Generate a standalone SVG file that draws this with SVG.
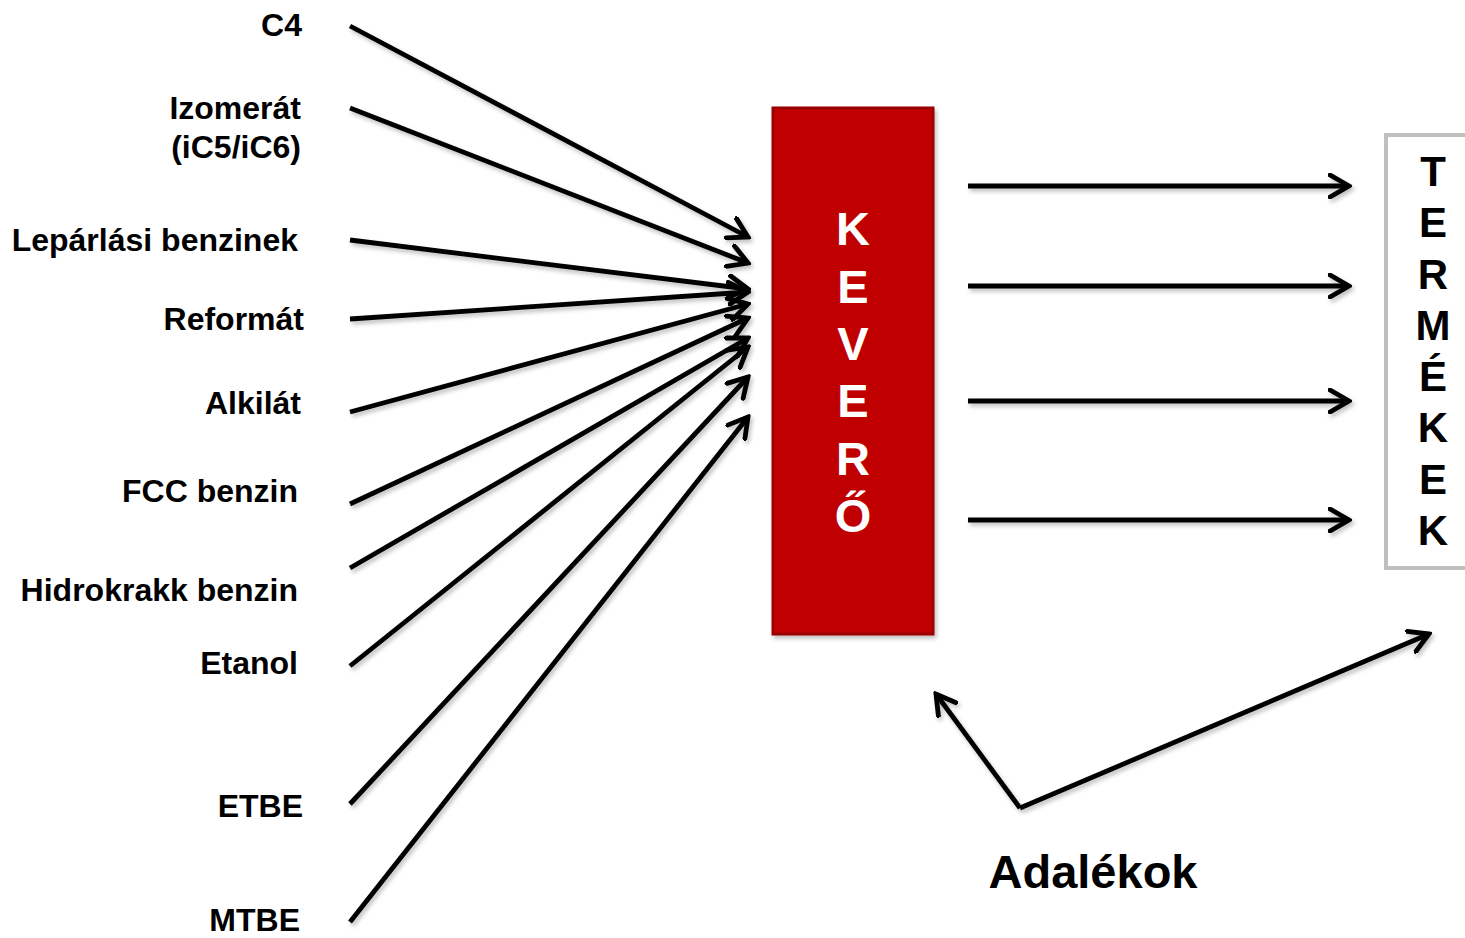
<svg xmlns="http://www.w3.org/2000/svg" width="1465" height="938" viewBox="0 0 1465 938">
<style>
.lbl{font-family:"Liberation Sans",Arial,sans-serif;font-weight:bold;font-size:32px;fill:#000;text-anchor:end}
.kv{font-family:"Liberation Sans",Arial,sans-serif;font-weight:bold;font-size:47px;fill:#fff;text-anchor:middle}
.tm{font-family:"Liberation Sans",Arial,sans-serif;font-weight:bold;font-size:42px;fill:#000;text-anchor:middle}
.ad{font-family:"Liberation Sans",Arial,sans-serif;font-weight:bold;font-size:47px;fill:#000;text-anchor:middle}
.ln{stroke:#000;stroke-width:4.8;fill:none;marker-end:url(#ah)}
</style>
<defs>
<marker id="ah" markerUnits="userSpaceOnUse" viewBox="0 0 24 26" refX="21" refY="13" markerWidth="24" markerHeight="26" orient="auto">
<path d="M2,2 L21,13 L2,24" fill="none" stroke="#000" stroke-width="4.8" stroke-linecap="round"/>
</marker>
<filter id="sh" filterUnits="userSpaceOnUse" x="0" y="0" width="1465" height="938">
<feDropShadow dx="2" dy="3" stdDeviation="2" flood-color="#000" flood-opacity="0.25"/>
</filter>
</defs>
<rect width="1465" height="938" fill="#fff"/>
<g id="labels">
<text class="lbl" x="302" y="36">C4</text>
<text class="lbl" x="301" y="119">Izomerát</text>
<text class="lbl" x="301" y="158">(iC5/iC6)</text>
<text class="lbl" x="298" y="251">Lepárlási benzinek</text>
<text class="lbl" x="304" y="330">Reformát</text>
<text class="lbl" x="301" y="414">Alkilát</text>
<text class="lbl" x="298" y="502">FCC benzin</text>
<text class="lbl" x="298" y="601">Hidrokrakk benzin</text>
<text class="lbl" x="298" y="674">Etanol</text>
<text class="lbl" x="303" y="817">ETBE</text>
<text class="lbl" x="300" y="931">MTBE</text>
</g>
<g id="kevero">
<rect x="773" y="108" width="160" height="526" fill="#C00000" stroke="#9A0000" stroke-width="3" filter="url(#sh)"/>
<text class="kv" x="853" y="245">K</text>
<text class="kv" x="853" y="303">E</text>
<text class="kv" x="853" y="360">V</text>
<text class="kv" x="853" y="417">E</text>
<text class="kv" x="853" y="475">R</text>
<text class="kv" x="853" y="532">Ő</text>
</g>
<g id="termekek">
<rect x="1386" y="135" width="90" height="433" fill="#fff" stroke="#BFBFBF" stroke-width="4"/>
<text class="tm" x="1433" y="186">T</text>
<text class="tm" x="1433" y="237">E</text>
<text class="tm" x="1433" y="289">R</text>
<text class="tm" x="1433" y="340">M</text>
<text class="tm" x="1433" y="391">É</text>
<text class="tm" x="1433" y="442">K</text>
<text class="tm" x="1433" y="494">E</text>
<text class="tm" x="1433" y="545">K</text>
</g>
<g id="adalekok">
<text class="ad" x="1093" y="888">Adalékok</text>
</g>
<g id="connectors" filter="url(#sh)">
<line class="ln" x1="350" y1="26" x2="748" y2="237"/>
<line class="ln" x1="350" y1="108" x2="748" y2="263"/>
<line class="ln" x1="350" y1="240" x2="748" y2="289"/>
<line class="ln" x1="350" y1="319" x2="748" y2="292"/>
<line class="ln" x1="350" y1="412" x2="748" y2="304"/>
<line class="ln" x1="350" y1="504" x2="748" y2="318"/>
<line class="ln" x1="350" y1="568" x2="748" y2="338"/>
<line class="ln" x1="350" y1="666" x2="748" y2="347"/>
<line class="ln" x1="350" y1="804" x2="748" y2="377"/>
<line class="ln" x1="350" y1="922" x2="748" y2="417"/>
<line class="ln" x1="968" y1="186" x2="1349" y2="186"/>
<line class="ln" x1="968" y1="286" x2="1349" y2="286"/>
<line class="ln" x1="968" y1="401" x2="1349" y2="401"/>
<line class="ln" x1="968" y1="520" x2="1349" y2="520"/>
<line class="ln" x1="1020" y1="808" x2="936" y2="694"/>
<line class="ln" x1="1020" y1="808" x2="1429" y2="634"/>
</g>
</svg>
